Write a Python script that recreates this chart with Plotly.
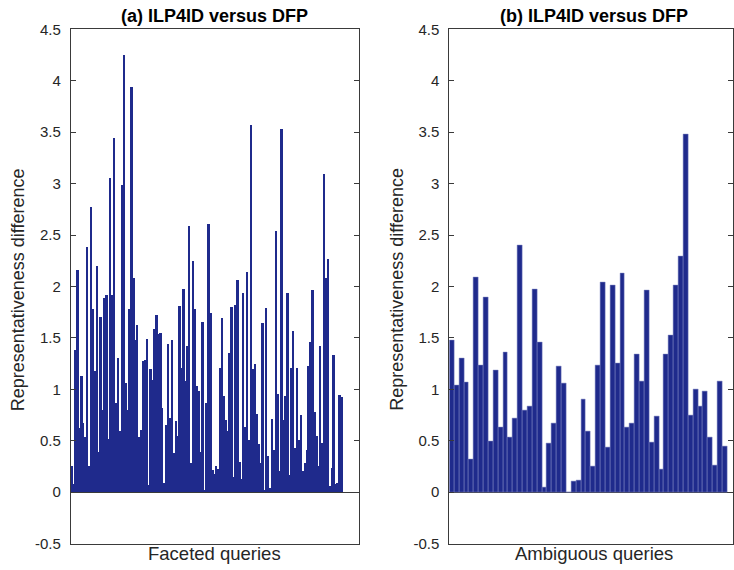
import plotly.graph_objects as go

# ---- data ----
faceted_values = [
    0.25, 0.08, 1.38, 2.16, 0.62, 1.13, 0.67, 0.53, 2.38, 0.25,
    2.77, 1.78, 1.17, 2.20, 0.39, 1.70, 0.80, 1.88, 1.91, 0.51,
    3.05, 1.91, 3.44, 0.86, 1.30, 0.59, 2.98, 4.25, 1.06, 0.80,
    1.78, 3.94, 2.08, 1.48, 1.62, 0.53, 0.60, 1.27, 1.28, 1.49,
    0.07, 1.19, 1.09, 1.58, 1.72, 1.53, 1.54, 0.81, 0.09, 0.65,
    1.44, 0.72, 1.48, 0.38, 0.69, 0.54, 1.81, 1.20, 1.97, 1.08,
    1.42, 2.58, 0.28, 2.24, 1.78, 1.03, 0.98, 0.39, 1.65, 0.01,
    0.86, 2.60, 1.74, 0.21, 0.17, 0.25, 0.22, 1.20, 1.69, 0.93,
    0.70, 0.59, 1.35, 1.80, 0.14, 1.82, 2.06, 0.29, 0.12, 1.93,
    0.63, 2.14, 0.50, 3.57, 1.19, 1.24, 0.76, 0.46, 0.28, 1.64,
    0.02, 1.79, 0.35, 0.04, 0.71, 0.41, 2.54, 0.95, 0.20, 3.53,
    0.70, 0.93, 1.93, 0.16, 1.20, 1.56, 0.43, 1.20, 0.50, 0.75,
    0.20, 0.28, 0.41, 1.22, 1.46, 1.96, 0.78, 0.54, 0.25, 1.42,
    0.47, 3.09, 2.08, 2.26, 0.06, 0.23, 1.33, 0.08, 0.09, 0.94,
    0.92,
]

ambiguous_values = [
    1.48, 1.04, 1.30, 1.07, 0.32, 2.09, 1.23, 1.89, 0.49, 1.18,
    0.63, 1.36, 0.53, 0.72, 2.40, 0.80, 0.83, 1.97, 1.46, 0.05,
    0.47, 0.67, 1.22, 1.06, 0.00, 0.10, 0.11, 0.90, 0.59, 0.25,
    1.23, 2.04, 0.44, 2.01, 1.25, 2.13, 0.63, 0.67, 1.34, 1.08,
    1.96, 0.48, 0.74, 0.22, 1.34, 1.52, 2.01, 2.29, 3.48, 0.75,
    1.00, 0.83, 0.98, 0.53, 0.26, 1.08, 0.45,
]

ytick_vals = [-0.5, 0, 0.5, 1, 1.5, 2, 2.5, 3, 3.5, 4, 4.5]
ytick_text = ["-0.5", "0", "0.5", "1", "1.5", "2", "2.5", "3", "3.5", "4", "4.5"]

panel_titles = ["(a) ILP4ID versus DFP", "(b) ILP4ID versus DFP"]
x_titles = ["Faceted queries", "Ambiguous queries"]
y_title = "Representativeness difference"

# ---- styling ----
W, H = 734, 570
BAR = "#1f2a8c"
EDGE = "#7a80c0"
AXC = "#3a3a3a"
FONT = "Liberation Sans, Arial, Helvetica, sans-serif"

fig = go.Figure()
fig.add_trace(go.Bar(
    x=list(range(1, len(faceted_values) + 1)), y=faceted_values,
    xaxis="x", yaxis="y", width=1,
    marker=dict(color=BAR, line=dict(color=EDGE, width=0)),
    showlegend=False, hoverinfo="y",
))
fig.add_trace(go.Bar(
    x=list(range(1, len(ambiguous_values) + 1)), y=ambiguous_values,
    xaxis="x2", yaxis="y2", width=1,
    marker=dict(color=BAR, line=dict(color=EDGE, width=0.5)),
    showlegend=False, hoverinfo="y",
))

# vertical pixel positions (top-down) of plot area
TOP_PX, BOT_PX = 21, 551
ydom = [(H - BOT_PX) / H, (H - TOP_PX) / H]
xdom1 = [71 / W, 359 / W]
xdom2 = [450 / W, 1.0]

def xaxis_cfg(dom, rng, anchor):
    return dict(domain=dom, range=rng, anchor=anchor, showticklabels=False,
                ticks="", showgrid=False, zeroline=False, showline=True,
                linecolor=AXC, linewidth=1, mirror=True, fixedrange=True)

def yaxis_cfg(anchor):
    return dict(domain=ydom, range=[-0.5, 4.5], anchor=anchor,
                tickmode="array", tickvals=ytick_vals, ticktext=ytick_text,
                ticks="inside", ticklen=5, tickcolor=AXC, tickwidth=1,
                ticklabelstandoff=6,
                showgrid=False, zeroline=True, zerolinecolor=AXC, zerolinewidth=1,
                showline=True, linecolor=AXC, linewidth=1, mirror="ticks",
                tickfont=dict(family=FONT, size=15, color="#262626"),
                fixedrange=True)

fig.update_layout(
    width=W, height=H,
    margin=dict(l=0, r=0, t=0, b=0),
    paper_bgcolor="white", plot_bgcolor="white",
    bargap=0,
    xaxis=xaxis_cfg(xdom1, [0.5, 149.8], "y"),
    yaxis=yaxis_cfg("x"),
    xaxis2=xaxis_cfg(xdom2, [0.5, 58.7], "y2"),
    yaxis2=yaxis_cfg("x2"),
)

annotations = []
for i, dom in enumerate([xdom1, [450 / W, 739 / W]]):
    cx = (dom[0] + dom[1]) / 2
    annotations.append(dict(text="<b>%s</b>" % panel_titles[i], x=cx, y=(H - 7) / H,
                            xref="paper", yref="paper", showarrow=False,
                            xanchor="center", yanchor="middle",
                            font=dict(family=FONT, size=18, color="#000")))
    annotations.append(dict(text=x_titles[i], x=cx, y=(H - 561) / H,
                            xref="paper", yref="paper", showarrow=False,
                            xanchor="center", yanchor="middle",
                            font=dict(family=FONT, size=18.5, color="#262626")))
for xp in [18, 398]:
    annotations.append(dict(text=y_title, x=xp / W, y=(H - 289) / H,
                            xref="paper", yref="paper", showarrow=False,
                            textangle=-90, xanchor="center", yanchor="middle",
                            font=dict(family=FONT, size=18, color="#262626")))
fig.update_layout(annotations=annotations)

pin_page = (
    "document.documentElement.style.margin='0';"
    "document.body.style.margin='0';"
    "document.body.style.overflow='hidden';"
)

fig.write_html("out.html", config={"displayModeBar": False}, post_script=pin_page)
